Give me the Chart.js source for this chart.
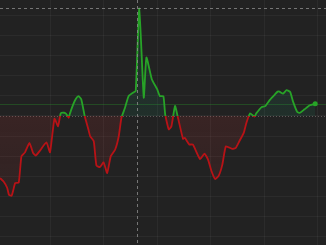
<!DOCTYPE html>
<html>
<head>
<meta charset="utf-8">
<script src="https://cdn.jsdelivr.net/npm/chart.js@4.4.1/dist/chart.umd.min.js"></script>
<style>
  html, body { margin: 0; padding: 0; background: #222222; }
  canvas { display: block; }
</style>
</head>
<body>
<canvas id="price" width="326" height="245"></canvas>
<script>
// minutes since 9:00
const times = [4, 8, 12, 14, 17, 19, 21, 25, 28, 32, 37, 41, 44, 49, 56, 60, 65, 69, 72, 76,
  78, 81, 82, 86, 89, 92, 95, 99, 103, 105, 109, 112, 116, 120, 124, 128, 133, 137, 140, 144,
  148, 153, 156, 160, 165, 168, 174, 180, 183, 187, 189, 193, 196, 200, 203, 209, 211, 216, 220, 228,
  233, 237, 241, 245, 249, 253, 257, 264, 268, 272, 277, 280, 284, 289, 291, 297, 301, 306, 312, 315,
  317, 321, 325, 329, 332, 337, 340, 345, 351, 357];
const prices = [96.91, 96.74, 96.43, 96.08, 96.03, 96.33, 96.66, 96.69, 97.99, 98.19, 98.66, 98.16, 98.03, 98.29, 98.69, 98.19, 99.86, 99.49, 100.13, 100.16,
  100.11, 99.91, 100.08, 100.58, 100.86, 100.99, 100.83, 99.97, 99.33, 98.99, 98.74, 97.53, 97.46, 97.69, 97.16, 97.99, 98.33, 98.99, 99.91, 100.41,
  100.99, 101.16, 101.24, 105.35, 100.91, 102.91, 101.83, 101.33, 100.99, 100.98, 100.08, 99.33, 99.49, 100.50, 99.97, 98.86, 98.91, 98.58, 98.58, 97.86,
  98.13, 97.83, 97.24, 96.86, 97.03, 97.58, 98.49, 98.36, 98.41, 98.74, 99.16, 99.66, 100.13, 99.97, 100.13, 100.44, 100.49, 100.79, 101.08, 101.21,
  101.21, 101.11, 101.28, 101.19, 100.74, 100.19, 100.16, 100.33, 100.53, 100.61];
const prevClose = 100;
const gridTimes = [60, 120, 180, 240, 300, 360];
const gridPrices = [94, 95, 96, 97, 98, 99, 100, 101, 102, 103, 104, 105];
const crossTime = 157;
const crossPrice = 105.37;

const upColor = '#27a327';
const downColor = '#b81216';

function splitGradient(chart, stops) {
  const {ctx, chartArea, scales} = chart;
  if (!chartArea || !scales.y) return stops[1];
  const h = chartArea.bottom - chartArea.top;
  let r = (scales.y.getPixelForValue(prevClose) - chartArea.top) / h;
  r = Math.min(1, Math.max(0, r));
  const g = ctx.createLinearGradient(0, chartArea.top, 0, chartArea.bottom);
  g.addColorStop(0, stops[0]);
  g.addColorStop(r, stops[1]);
  g.addColorStop(r, stops[2]);
  g.addColorStop(1, stops[3]);
  return g;
}

function hline(ctx, a, y) {
  ctx.beginPath();
  ctx.moveTo(a.left, Math.round(y) + 0.5);
  ctx.lineTo(a.right, Math.round(y) + 0.5);
  ctx.stroke();
}

const overlay = {
  id: 'overlay',
  beforeDatasetsDraw(chart) {
    const {ctx, chartArea: a, scales: {y}} = chart;
    ctx.save();
    ctx.lineWidth = 1;
    ctx.setLineDash([1, 2]);
    ctx.strokeStyle = 'rgba(120,110,110,0.7)';
    hline(ctx, a, y.getPixelForValue(prevClose));
    ctx.setLineDash([]);
    ctx.strokeStyle = 'rgba(40,150,40,0.35)';
    hline(ctx, a, y.getPixelForValue(prices[prices.length - 1]));
    ctx.restore();
  },
  afterDatasetsDraw(chart) {
    const {ctx, chartArea: a, scales: {x, y}} = chart;
    ctx.save();
    ctx.lineWidth = 1;
    ctx.setLineDash([3, 3]);
    ctx.strokeStyle = 'rgba(140,140,140,0.8)';
    hline(ctx, a, y.getPixelForValue(crossPrice));
    const px = Math.round(x.getPixelForValue(crossTime)) + 0.5;
    ctx.beginPath();
    ctx.moveTo(px, a.top);
    ctx.lineTo(px, a.bottom);
    ctx.stroke();
    ctx.restore();
  }
};

const ctx = document.getElementById('price');
new Chart(ctx, {
  type: 'line',
  data: {
    datasets: [{
      data: times.map((t, i) => ({x: t, y: prices[i]})),
      borderWidth: 1.8,
      tension: 0.15,
      borderColor: (c) => splitGradient(c.chart, [upColor, upColor, downColor, downColor]),
      backgroundColor: (c) => splitGradient(c.chart, ['rgba(30,150,110,0.10)', 'rgba(30,150,110,0.12)', 'rgba(180,50,50,0.16)', 'rgba(180,50,50,0.05)']),
      fill: {target: {value: prevClose}},
      pointRadius: (c) => c.dataIndex === prices.length - 1 ? 2.5 : 0,
      pointBackgroundColor: upColor,
      pointBorderWidth: 0,
    }],
  },
  options: {
    responsive: false,
    animation: false,
    layout: { padding: 0, autoPadding: false },
    plugins: {
      legend: { display: false },
      tooltip: { enabled: false },
    },
    scales: {
      x: {
        type: 'linear',
        min: 4,
        max: 369.1,
        afterBuildTicks: (axis) => { axis.ticks = gridTimes.map(v => ({value: v})); },
        ticks: { display: false },
        grid: { color: 'rgba(255,255,255,0.045)', drawTicks: false },
        border: { display: false },
      },
      y: {
        min: 93.58,
        max: 105.77,
        afterBuildTicks: (axis) => { axis.ticks = gridPrices.map(v => ({value: v})); },
        ticks: { display: false },
        grid: { color: 'rgba(255,255,255,0.045)', drawTicks: false },
        border: { display: false },
      },
    },
  },
  plugins: [overlay],
});
</script>
</body>
</html>
